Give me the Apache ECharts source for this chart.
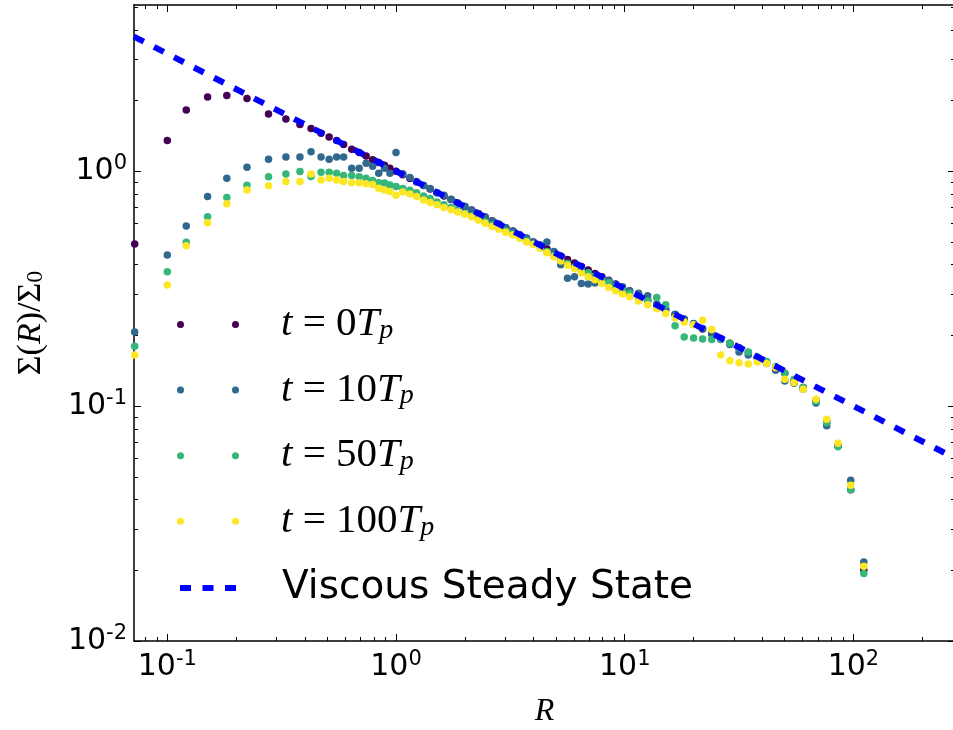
<!DOCTYPE html>
<html>
<head>
<meta charset="utf-8">
<script src="https://cdn.jsdelivr.net/npm/echarts@6/dist/echarts.min.js"></script>
<style>
  html, body { margin: 0; padding: 0; background: #fff; }
  #chart { width: 953px; height: 730px; }
</style>
</head>
<body>
<div id="chart"></div>
<script>
// radii shared by all four snapshots
var radius = [0.072, 0.1, 0.121, 0.15, 0.182, 0.223, 0.277, 0.33, 0.38, 0.425,
    0.47, 0.51, 0.55, 0.59, 0.64, 0.69, 0.74, 0.79, 0.84, 0.89,
    0.94, 1.0, 1.07, 1.15, 1.23, 1.32, 1.41, 1.51, 1.62, 1.74,
    1.86, 2.0, 2.14, 2.29, 2.45, 2.63, 2.82, 3.02, 3.24, 3.47,
    3.72, 3.98, 4.27, 4.57, 4.9, 5.25, 5.62, 6.03, 6.46, 6.92,
    7.41, 7.94, 8.51, 9.12, 9.77, 10.5, 11.5, 12.6, 13.8, 15.1,
    16.6, 18.2, 20.0, 21.9, 24.0, 26.3, 28.8, 31.6, 34.7, 38.0,
    41.7, 45.7, 50.1, 55.0, 60.3, 68.6, 76.4, 85.6, 97.3, 111];

// surface density at t = 0, 10, 50, 100 Tp
var sigmaT0 = [0.49, 1.35, 1.82, 2.07, 2.10, 2.04, 1.75, 1.67, 1.58, 1.52,
    1.45, 1.40, 1.35, 1.30, 1.24, 1.20, 1.16, 1.12, 1.09, 1.06,
    1.03, 1.0, 0.965, 0.93, 0.90, 0.87, 0.84, 0.81, 0.785, 0.757,
    0.733, 0.706, 0.684, 0.66, 0.638, 0.616, 0.595, 0.575, 0.556, 0.537,
    0.518, 0.50, 0.484, 0.468, 0.452, 0.436, 0.421, 0.407, 0.393, 0.38,
    0.367, 0.355, 0.343, 0.331, 0.32, 0.309, 0.295, 0.282, 0.269, 0.257,
    0.245, 0.234, 0.223, 0.213, 0.203, 0.194, 0.185, 0.177, 0.169, 0.161,
    0.154, 0.146, 0.138, 0.128, 0.12, 0.106, 0.086, 0.068, 0.044, 0.020];

var sigmaT10 = [0.207, 0.44, 0.585, 0.78, 0.934, 1.04, 1.125, 1.15, 1.15, 1.21,
    1.15, 1.125, 1.15, 1.15, 1.03, 1.03, 1.08, 1.05, 0.98, 1.03,
    0.98, 1.2, 0.975, 0.94, 0.905, 0.87, 0.845, 0.81, 0.79, 0.76,
    0.73, 0.71, 0.68, 0.66, 0.64, 0.615, 0.595, 0.575, 0.555, 0.535,
    0.52, 0.50, 0.485, 0.50, 0.455, 0.40, 0.35, 0.355, 0.333, 0.331,
    0.334, 0.35, 0.342, 0.33, 0.322, 0.31, 0.302, 0.295, 0.272, 0.258,
    0.246, 0.235, 0.225, 0.214, 0.203, 0.192, 0.183, 0.170, 0.165, 0.160,
    0.152, 0.142, 0.128, 0.125, 0.118, 0.103, 0.0824, 0.068, 0.0484, 0.0217];

var sigmaT50 = [0.18, 0.373, 0.498, 0.64, 0.772, 0.871, 0.948, 0.974, 0.996, 0.95,
    0.99, 0.99, 0.98, 0.958, 0.958, 0.948, 0.934, 0.912, 0.894, 0.89,
    0.874, 0.86, 0.845, 0.83, 0.81, 0.785, 0.765, 0.74, 0.72, 0.70,
    0.68, 0.66, 0.645, 0.628, 0.61, 0.59, 0.575, 0.556, 0.54, 0.522,
    0.505, 0.49, 0.474, 0.455, 0.438, 0.422, 0.405, 0.39, 0.38, 0.37,
    0.357, 0.345, 0.335, 0.322, 0.312, 0.302, 0.29, 0.28, 0.29, 0.27,
    0.22, 0.197, 0.195, 0.193, 0.192, 0.193, 0.185, 0.177, 0.17, 0.162,
    0.155, 0.147, 0.138, 0.13, 0.12, 0.105, 0.085, 0.0672, 0.0442, 0.0194];

var sigmaT100 = [0.165, 0.328, 0.482, 0.604, 0.726, 0.832, 0.868, 0.903, 0.903, 0.974,
    0.918, 0.934, 0.918, 0.903, 0.894, 0.894, 0.885, 0.877, 0.846, 0.832,
    0.82, 0.79, 0.815, 0.80, 0.78, 0.755, 0.735, 0.72, 0.70, 0.685,
    0.67, 0.655, 0.64, 0.62, 0.60, 0.582, 0.566, 0.55, 0.535, 0.518,
    0.50, 0.488, 0.47, 0.45, 0.432, 0.415, 0.398, 0.385, 0.37, 0.355,
    0.345, 0.333, 0.32, 0.31, 0.30, 0.292, 0.28, 0.27, 0.26, 0.248,
    0.238, 0.228, 0.222, 0.232, 0.212, 0.165, 0.156, 0.153, 0.151, 0.154,
    0.152, 0.146, 0.13, 0.126, 0.118, 0.107, 0.088, 0.0694, 0.046, 0.0208];

// viscous steady state, read at the two ends of the frame
var steadyR = [0.0715, 278];
var steadySigma = [3.74, 0.060];

var xRange = [0.0715, 278];
var yRange = [0.01, 5.1];
var xMajor = [0.1, 1, 10, 100];
var xMinor = [0.08, 0.09, 0.2, 0.3, 0.4, 0.5, 0.6, 0.7, 0.8, 0.9,
    2, 3, 4, 5, 6, 7, 8, 9, 20, 30, 40, 50, 60, 70, 80, 90, 200];
var yMajor = [0.01, 0.1, 1];
var yMinor = [0.02, 0.03, 0.04, 0.05, 0.06, 0.07, 0.08, 0.09,
    0.2, 0.3, 0.4, 0.5, 0.6, 0.7, 0.8, 0.9, 2, 3, 4, 5];

var seriesNames = ['t0', 't10', 't50', 't100'];
var seriesLabels = {
    t0: '{i|t}{n| = 0}{i|T}{sub|p}',
    t10: '{i|t}{n| = 10}{i|T}{sub|p}',
    t50: '{i|t}{n| = 50}{i|T}{sub|p}',
    t100: '{i|t}{n| = 100}{i|T}{sub|p}'
};
var seriesColors = ['#440154', '#31688e', '#35b779', '#fde725'];
var seriesData = [sigmaT0, sigmaT10, sigmaT50, sigmaT100];

function pairs(xs, ys) {
    return xs.map(function (x, i) { return [x, ys[i]]; });
}

function powerLabel(v) {
    var e = Math.round(Math.log10(v));
    return '{b|10}{s|' + e + '}';
}

var labelRich = {
    b: { fontFamily: 'DejaVu Sans', fontSize: 30, color: '#000', lineHeight: 36 },
    s: { fontFamily: 'DejaVu Sans', fontSize: 21, color: '#000', lineHeight: 21, verticalAlign: 'top' }
};

// one log axis: major or minor ticks, with or without labels
function makeAxis(dim, pos, values, len, withLine, withLabels) {
    var range = dim === 'x' ? xRange : yRange;
    var ax = {
        type: 'log',
        logBase: 10,
        position: pos,
        min: range[0],
        max: range[1],
        splitLine: { show: false },
        axisLine: { show: withLine, lineStyle: { color: '#000', width: 1.5 } },
        axisTick: {
            show: true,
            inside: true,
            length: len,
            customValues: values,
            lineStyle: { color: '#000', width: 1 }
        },
        axisLabel: { show: false }
    };
    if (withLabels) {
        ax.axisLabel = {
            show: true,
            customValues: values,
            formatter: powerLabel,
            margin: dim === 'x' ? 8 : 7,
            rich: labelRich
        };
    }
    return ax;
}

var xAxes = [
    makeAxis('x', 'bottom', xMajor, 7, true, true),
    makeAxis('x', 'bottom', xMinor, 4, false, false),
    makeAxis('x', 'top', xMajor, 7, true, false),
    makeAxis('x', 'top', xMinor, 4, false, false)
];
xAxes[0].name = 'R';
xAxes[0].nameLocation = 'middle';
xAxes[0].nameGap = 55;
xAxes[0].nameTextStyle = { fontFamily: 'Liberation Serif', fontStyle: 'italic', fontSize: 32, color: '#000' };

var yAxes = [
    makeAxis('y', 'left', yMajor, 7, true, true),
    makeAxis('y', 'left', yMinor, 4, false, false),
    makeAxis('y', 'right', yMajor, 7, true, false),
    makeAxis('y', 'right', yMinor, 4, false, false)
];
yAxes[0].name = '{u|Σ(}{i|R}{u|)/Σ}{sub|0}';
yAxes[0].nameLocation = 'middle';
yAxes[0].nameGap = 86;
yAxes[0].nameTextStyle = {
    color: '#000',
    rich: {
        u: { fontFamily: 'Liberation Serif', fontSize: 34, color: '#000' },
        i: { fontFamily: 'Liberation Serif', fontStyle: 'italic', fontSize: 34, color: '#000' },
        sub: { fontFamily: 'Liberation Serif', fontSize: 24, color: '#000', verticalAlign: 'bottom', lineHeight: 34 }
    }
};

var series = [{
    name: 'Viscous Steady State',
    type: 'line',
    xAxisIndex: 0,
    yAxisIndex: 0,
    data: pairs(steadyR, steadySigma),
    showSymbol: false,
    symbol: 'none',
    color: '#0000ff',
    itemStyle: { color: '#0000ff' },
    lineStyle: { color: '#0000ff', width: 6, type: [11, 11.5] },
    silent: true
}];
seriesNames.forEach(function (name, k) {
    series.push({
        name: name,
        type: 'scatter',
        xAxisIndex: 0,
        yAxisIndex: 0,
        symbolSize: 7.5,
        itemStyle: { color: seriesColors[k], opacity: 1 },
        data: pairs(radius, seriesData[k])
    });
});

var chart = echarts.init(document.getElementById('chart'), null, { renderer: 'canvas' });
chart.setOption({
    animation: false,
    backgroundColor: '#fff',
    grid: { left: 134, right: -2, top: 5, bottom: 89, outerBoundsMode: 'none' },
    xAxis: xAxes,
    yAxis: yAxes,
    legend: [{
        data: seriesNames,
        orient: 'vertical',
        left: 177,
        top: 304,
        padding: 0,
        itemWidth: 62,
        itemHeight: 7,
        itemGap: 24.6,
        icon: 'path://M0,3.5a3.5,3.5 0 1,0 7,0a3.5,3.5 0 1,0 -7,0zM55,3.5a3.5,3.5 0 1,0 7,0a3.5,3.5 0 1,0 -7,0z',
        formatter: function (name) { return seriesLabels[name]; },
        textStyle: {
            padding: [0, 0, 0, 37],
            rich: {
                i: { fontFamily: 'Liberation Serif', fontStyle: 'italic', fontSize: 41, color: '#000', lineHeight: 40 },
                n: { fontFamily: 'Liberation Serif', fontSize: 41, color: '#000', lineHeight: 40 },
                sub: { fontFamily: 'Liberation Serif', fontStyle: 'italic', fontSize: 28, color: '#000', lineHeight: 40, verticalAlign: 'bottom' }
            }
        }
    }, {
        data: ['Viscous Steady State'],
        orient: 'vertical',
        left: 180,
        top: 568,
        padding: 0,
        itemWidth: 56,
        itemHeight: 6,
        icon: 'path://M0,0h11v6h-11zM22.5,0h11v6h-11zM45,0h11v6h-11z',
        lineStyle: { width: 0 },
        textStyle: {
            padding: [0, 0, 0, 41],
            fontFamily: 'DejaVu Sans',
            fontSize: 39,
            lineHeight: 40,
            color: '#000'
        }
    }],
    series: series
});
</script>
</body>
</html>
